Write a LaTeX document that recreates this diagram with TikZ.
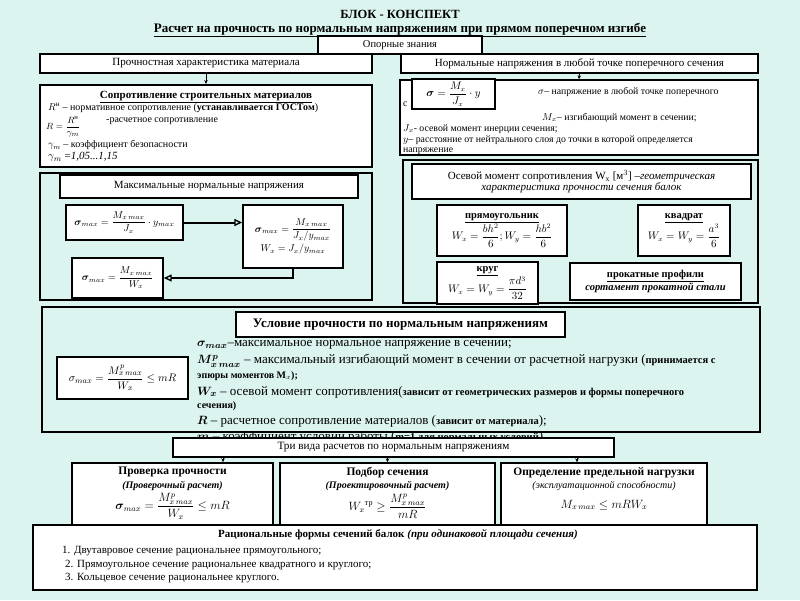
\documentclass[tikz,border=0pt]{standalone}
\usepackage{fontspec}
\setmainfont{Liberation Serif}
\usepackage{amsmath}
\usetikzlibrary{arrows.meta,calc}
\definecolor{bgc}{RGB}{220,244,240}
\newcommand\fsz[1]{\fontsize{#1}{#1}\selectfont}
\tikzset{
 bx/.style={draw=black, line width=1.4pt, fill=white, inner sep=1pt, align=center},
 frm/.style={draw=black, line width=1.6pt, inner sep=0pt},
 lbl/.style={anchor=west, inner sep=0pt, font=\fsz{10}},
 arr/.style={-{Stealth[length=4pt,width=3.5pt]}, line width=0.8pt},
 tri/.style={-{Triangle[open,length=8pt,width=7pt,line width=1.4pt]}, line width=2pt},
}
\begin{document}
\begin{tikzpicture}[x=1pt,y=-1pt]
\useasboundingbox (0,0) rectangle (800,600);
\fill[bgc] (0,0) rectangle (800,600);

\node[font=\bfseries\fsz{12.5}] (title) at (400,14) {БЛОК - КОНСПЕКТ};
\node[font=\bfseries\fsz{13}] (sub) at (400,30) {\underline{Расчет на прочность по нормальным напряжениям при прямом поперечном изгибе}};

\node[bx, minimum width=164, minimum height=18, font=\fsz{10.5}] (opor) at (400,45) {Опорные знания};
\node[bx, minimum width=332, minimum height=19, font=\fsz{11}] (proch) at (206,63.5) {Прочностная характеристика материала};
\node[bx, minimum width=357, minimum height=19, font=\fsz{11}] (norm) at (579.5,63.5) {Нормальные напряжения в любой точке поперечного сечения};

% Sopr
\node[bx, line width=2pt, minimum width=332, minimum height=82] (sopr) at (206,126) {};
\draw[arr] (proch.south) -- (sopr.north);
\node[inner sep=0, font=\bfseries\fsz{11}] (sopt) at (206,97) {\underline{Сопротивление строительных материалов}};
\node[lbl] (rn) at (48,108) {$R^{\text{н}}$ – нормативное сопротивление (\textbf{устанавливается ГОСТом})};
\node[lbl, font=\fsz{9.5}] (rf) at (46,127) {$R = \dfrac{R^{\text{н}}}{\gamma_m}$};
\node[lbl] (rt) at (106,121) {-расчетное сопротивление};
\node[lbl] (gm) at (48,145) {$\gamma_m$ – коэффициент безопасности};
\node[lbl, font=\fsz{11}] (gv) at (48,157) {$\gamma_m$ =\textit{1,05...1,15}};

% Sigma box
\node[bx, minimum width=358, minimum height=75] (sig) at (579,117.5) {};
\draw[arr] (norm.south) -- (sig.north);
\node[bx, minimum width=83, minimum height=30, font=\fsz{10.5}] (sigf) at (453.5,94) {$\boldsymbol{\sigma} = \dfrac{M_x}{J_x}\cdot y$};
\node[lbl, font=\fsz{9.8}] (s1) at (538,92) {$\sigma$– напряжение в любой точке поперечного};
\node[lbl, font=\fsz{9.8}] (s2) at (403,104) {с};
\node[lbl, font=\fsz{9.8}] (s3) at (542,118) {$M_x$– изгибающий момент в сечении;};
\node[lbl, font=\fsz{9.8}] (s4) at (403,129) {$J_x$- осевой момент инерции сечения;};
\node[lbl, font=\fsz{9.8}] (s5) at (403,140) {$y$– расстояние от нейтрального слоя до точки в которой определяется};
\node[lbl, font=\fsz{9.8}] (s6) at (403,151) {напряжение};

% Max section
\node[frm, minimum width=332, minimum height=127] (mframe) at (206,236.5) {};
\node[bx, minimum width=298, minimum height=23, font=\fsz{11}] (mtitle) at (209,186.5) {Максимальные нормальные напряжения};
\node[bx, minimum width=117, minimum height=35, font=\fsz{10}] (f1) at (124.5,222.5) {$\boldsymbol{\sigma}_{max} = \dfrac{M_{x\,max}}{J_x}\cdot y_{max}$};
\node[bx, minimum width=100, minimum height=63, font=\fsz{10}] (f2) at (293,236.5) {$\boldsymbol{\sigma}_{max} = \dfrac{M_{x\,max}}{J_x/y_{max}}$\\[2pt]$W_x = J_x/y_{max}$};
\node[bx, minimum width=91, minimum height=40, font=\fsz{10}] (f3) at (117.5,278) {$\boldsymbol{\sigma}_{max} = \dfrac{M_{x\,max}}{W_x}$};
\draw[tri] (f1.east) -- (f1.east -| f2.west);
\draw[tri] (f2.south) |- (f3.east);

% Osevoy section
\node[frm, minimum width=355, minimum height=143] (oframe) at (580.5,231.5) {};
\node[bx, minimum width=339, minimum height=35, font=\fsz{11}] (otitle) at (581.5,181.5) {Осевой момент сопротивления W$_\text{x}$ [м$^3$] –\textit{геометрическая}\\\textit{характеристика прочности сечения балок}};
\node[bx, minimum width=130, minimum height=51, font=\fsz{10.5}] (rect) at (502,230.5) {\textbf{\underline{прямоугольник}}\\$W_x = \dfrac{bh^2}{6};W_y = \dfrac{hb^2}{6}$};
\node[bx, minimum width=92, minimum height=51, font=\fsz{10.5}] (sq) at (684,230.5) {\textbf{\underline{квадрат}}\\$W_x = W_y = \dfrac{a^3}{6}$};
\node[bx, minimum width=101, minimum height=42, font=\fsz{10.5}] (circ) at (487.5,283) {\textbf{\underline{круг}}\\$W_x = W_y = \dfrac{\pi d^3}{32}$};
\node[bx, minimum width=171, minimum height=37, font=\fsz{10.5}] (prof) at (655.5,281.5) {\textbf{\underline{прокатные профили}}\\\textbf{\textit{сортамент прокатной стали}}};

% Uslovie section
\node[frm, minimum width=718, minimum height=125] (uframe) at (401,369.5) {};
\node[lbl, font=\fsz{13}] (u7) at (197,437) {$\boldsymbol{m}$ – коэффициент условий работы ({\bfseries\fsz{10.5}m=1 для нормальных условий})};
\node[lbl, font=\fsz{13}] (u1) at (197,345) {$\boldsymbol{\sigma_{max}}$–максимальное нормальное напряжение в сечении;};
\node[bx, minimum width=329, minimum height=25, font=\bfseries\fsz{13}] (utitle) at (400.5,324.5) {Условие прочности по нормальным напряжениям};
\node[bx, minimum width=131, minimum height=42, font=\fsz{11}] (uf) at (122.5,378) {$\sigma_{max} = \dfrac{M^p_{x\,max}}{W_x} \le mR$};
\node[lbl, font=\fsz{13}] (u2) at (197,361) {$\boldsymbol{M^p_{x\,max}}$ – максимальный изгибающий момент в сечении от расчетной нагрузки ({\bfseries\fsz{10.5}принимается с}};
\node[lbl, font=\bfseries\fsz{10}] (u3) at (197,376) {эпюры моментов M$_x$);};
\node[lbl, font=\fsz{13}] (u4) at (197,392) {$\boldsymbol{W_x}$ – осевой момент сопротивления({\bfseries\fsz{10.5}зависит от геометрических размеров и формы поперечного}};
\node[lbl, font=\bfseries\fsz{10}] (u5) at (197,406) {сечения)};
\node[lbl, font=\fsz{13}] (u6) at (197,421) {$\boldsymbol{R}$ – расчетное сопротивление материалов ({\bfseries\fsz{10.5}зависит от материала});};

% Three kinds
\node[bx, minimum width=441, minimum height=19, font=\fsz{11.2}] (tri) at (393.5,447.5) {Три вида расчетов по нормальным напряжениям};
\node[bx, minimum width=201, minimum height=65] (A) at (172.5,495.5) {};
\node[bx, minimum width=215, minimum height=65] (B) at (387.5,495.5) {};
\node[bx, minimum width=206, minimum height=65] (C) at (604,495.5) {};
\draw[arr] ([xshift=50.5pt]A.north |- tri.south) -- ([xshift=50.5pt]A.north);
\draw[arr] (B.north |- tri.south) -- (B.north);
\draw[arr] ([xshift=-27pt]C.north |- tri.south) -- ([xshift=-27pt]C.north);
\node[anchor=north, align=center, inner sep=0, font=\fsz{11.5}] (At) at (172.5,467) {\textbf{Проверка прочности}\\[2pt]{\fsz{10}\textbf{\textit{(Проверочный расчет)}}}\\[2pt]$\boldsymbol{\sigma}_{max} = \dfrac{M^p_{x\,max}}{W_x} \le mR$};
\node[anchor=north, align=center, inner sep=0, font=\fsz{11.5}] (Bt) at (387.5,467) {\textbf{Подбор сечения}\\[2pt]{\fsz{10}\textbf{\textit{(Проектировочный расчет)}}}\\[2pt]${W_x}^{\text{тр}} \ge \dfrac{M^p_{x\,max}}{mR}$};
\node[anchor=north, align=center, inner sep=0, font=\fsz{11.5}] (Ct) at (604,467) {\textbf{Определение предельной нагрузки}\\[2pt]{\fsz{10}\textit{(эксплуатационной способности)}}\\[8pt]$M_{x\,max} \le mRW_x$};

% Rational
\node[bx, minimum width=724, minimum height=65] (rat) at (395,557.5) {};
\node[inner sep=0, font=\fsz{11}] (ratt) at (398,535) {\textbf{Рациональные формы сечений балок} \textbf{\textit{(при одинаковой площади сечения)}}};
\node[lbl, font=\fsz{11}] (r1) at (62,551) {1. Двутавровое сечение рациональнее прямоугольного;};
\node[lbl, font=\fsz{11}] (r2) at (65,565) {2. Прямоугольное сечение рациональнее квадратного и круглого;};
\node[lbl, font=\fsz{11}] (r3) at (65,578) {3. Кольцевое сечение рациональнее круглого.};
\end{tikzpicture}
\end{document}
